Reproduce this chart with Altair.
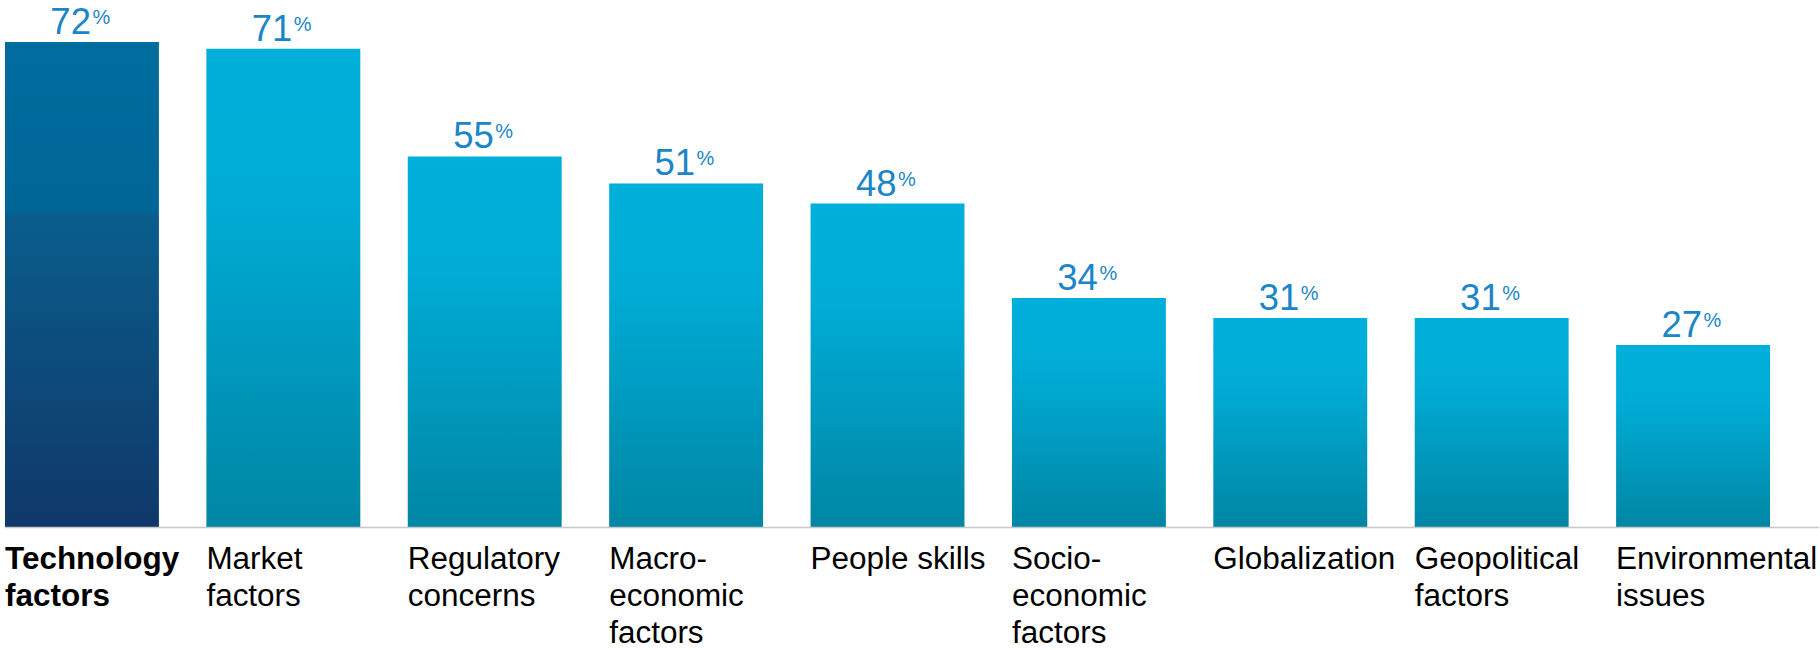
import altair as alt
import pandas as pd

categories = ["Technology factors", "Market factors", "Regulatory concerns",
              "Macro-economic factors", "People skills", "Socio-economic factors",
              "Globalization", "Geopolitical factors", "Environmental issues"]
values = [72, 71, 55, 51, 48, 34, 31, 31, 27]
label_lines = ["Technology\nfactors", "Market\nfactors", "Regulatory\nconcerns",
               "Macro-\neconomic\nfactors", "People skills", "Socio-\neconomic\nfactors",
               "Globalization", "Geopolitical\nfactors", "Environmental\nissues"]
highlight = ["Technology factors"]

df = pd.DataFrame({"category": categories, "value": values, "label": label_lines})
df["hl"] = df["category"].isin(highlight)

FONT = "Liberation Sans"
x = alt.X("category:N", sort=categories, axis=None,
          scale=alt.Scale(paddingInner=0.2357, paddingOuter=0.0248))
y = alt.Y("value:Q", axis=None, scale=alt.Scale(domain=[0, 78.2], nice=False, zero=True))

cyan_grad = alt.LinearGradient(gradient="linear", x1=0, x2=0, y1=0, y2=1, stops=[
    alt.GradientStop(offset=0, color="#00b0da"),
    alt.GradientStop(offset=0.3, color="#00acd6"),
    alt.GradientStop(offset=1, color="#0086a4"),
])
dark_grad = alt.LinearGradient(gradient="linear", x1=0, x2=0, y1=0, y2=1, stops=[
    alt.GradientStop(offset=0, color="#006d9e"),
    alt.GradientStop(offset=0.35, color="#006597"),
    alt.GradientStop(offset=0.36, color="#0a5d8b"),
    alt.GradientStop(offset=1, color="#10386a"),
])

base = alt.Chart(df)

bars_hl = base.transform_filter("datum.hl").mark_bar(color=dark_grad).encode(x=x, y=y)
bars = base.transform_filter("!datum.hl").mark_bar(color=cyan_grad).encode(x=x, y=y)

baseline = alt.Chart(pd.DataFrame({"v": [0]})).mark_rule(
    color="#c8c8c8", strokeWidth=1.5
).encode(x=alt.value(5), x2=alt.value(1820), y=alt.value(527.5))

num = base.mark_text(align="right", baseline="alphabetic", dx=9, dy=-8,
                     fontSize=36.5, font=FONT, color="#1a86c8").encode(
    x=x, y=y, text=alt.Text("value:Q", format="d"))
pct = base.mark_text(align="left", baseline="alphabetic", dx=10.5, dy=-18,
                     fontSize=20, font=FONT, color="#1a86c8").encode(
    x=x, y=y, text=alt.value("%"))

lab_hl = base.transform_filter("datum.hl").mark_text(
    align="left", baseline="alphabetic", dx=-77, fontSize=31.5, lineHeight=37,
    lineBreak="\n", font=FONT, fontWeight="bold", color="#000000").encode(
    x=x, y=alt.value(569), text="label:N")
lab = base.transform_filter("!datum.hl").mark_text(
    align="left", baseline="alphabetic", dx=-77, fontSize=31.5, lineHeight=37,
    lineBreak="\n", font=FONT, color="#000000").encode(
    x=x, y=alt.value(569), text="label:N")

chart = alt.layer(bars_hl, bars, baseline, num, pct, lab_hl, lab).properties(
    width=1776, height=527,
    padding={"left": 0, "top": 0, "right": 0, "bottom": 0},
    background="#ffffff",
).configure_view(stroke=None)

chart.save("out.html", embed_options={"renderer": "svg", "actions": False})
